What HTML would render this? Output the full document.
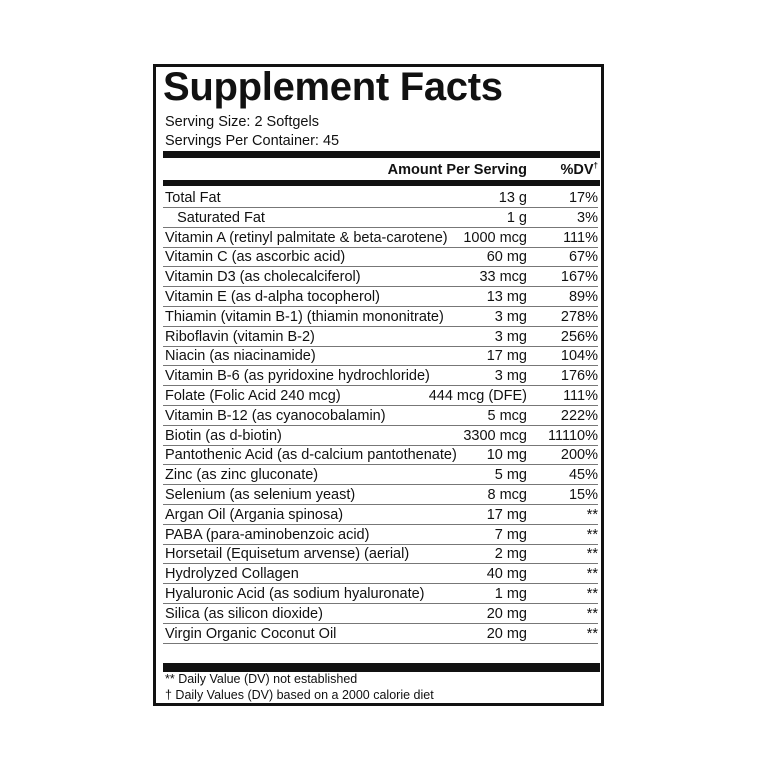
<!DOCTYPE html>
<html><head><meta charset="utf-8"><style>
*{margin:0;padding:0;box-sizing:border-box}
body{width:773px;height:773px;background:#fff;position:relative;overflow:hidden;font-family:"Liberation Sans Narrow","Liberation Sans",sans-serif;color:#111}
.box{position:absolute;left:153px;top:64px;width:451px;height:642px;border:3px solid #111}
.t{position:absolute;white-space:nowrap;font-size:14.5px;line-height:20px}
.bar{position:absolute;left:163px;width:437px;background:#111}
.ln{position:absolute;left:163px;width:435px;height:1px;background:#777}
.r{text-align:right}
sup{font-size:8px;line-height:0;vertical-align:6px}
</style></head><body>
<div class="box"></div>
<div class="t" style="left:163px;top:62px;font-family:'Liberation Sans',sans-serif;font-weight:bold;font-size:40px;line-height:50px;letter-spacing:-0.3px">Supplement Facts</div>
<div class="t" style="left:165px;top:112px">Serving Size: 2 Softgels</div>
<div class="t" style="left:165px;top:131px">Servings Per Container: 45</div>
<div class="bar" style="top:151px;height:7px"></div>
<div class="t" style="left:330px;width:197px;top:160px;font-weight:bold;text-align:right">Amount Per Serving</div>
<div class="t" style="left:540px;width:58px;top:160px;font-weight:bold;text-align:right">%DV<sup>†</sup></div>
<div class="bar" style="top:180px;height:6px"></div>
<div id="rows"></div>
<div class="bar" style="top:663px;height:9px"></div>
<div class="t" style="left:165px;top:671px;font-size:12.5px;line-height:16px">** Daily Value (DV) not established</div>
<div class="t" style="left:165px;top:687px;font-size:12.5px;line-height:16px">† Daily Values (DV) based on a 2000 calorie diet</div>
<script>
var d=[["Total Fat","13 g","17%"],["&nbsp;&nbsp;&nbsp;Saturated Fat","1 g","3%"],["Vitamin A (retinyl palmitate &amp; beta-carotene)","1000 mcg","111%"],["Vitamin C (as ascorbic acid)","60 mg","67%"],["Vitamin D3 (as cholecalciferol)","33 mcg","167%"],["Vitamin E (as d-alpha tocopherol)","13 mg","89%"],["Thiamin (vitamin B-1) (thiamin mononitrate)","3 mg","278%"],["Riboflavin (vitamin B-2)","3 mg","256%"],["Niacin (as niacinamide)","17 mg","104%"],["Vitamin B-6 (as pyridoxine hydrochloride)","3 mg","176%"],["Folate (Folic Acid 240 mcg)","444 mcg (DFE)","111%"],["Vitamin B-12 (as cyanocobalamin)","5 mcg","222%"],["Biotin (as d-biotin)","3300 mcg","11110%"],["Pantothenic Acid (as d-calcium pantothenate)","10 mg","200%"],["Zinc (as zinc gluconate)","5 mg","45%"],["Selenium (as selenium yeast)","8 mcg","15%"],["Argan Oil (Argania spinosa)","17 mg","**"],["PABA (para-aminobenzoic acid)","7 mg","**"],["Horsetail (Equisetum arvense) (aerial)","2 mg","**"],["Hydrolyzed Collagen","40 mg","**"],["Hyaluronic Acid (as sodium hyaluronate)","1 mg","**"],["Silica (as silicon dioxide)","20 mg","**"],["Virgin Organic Coconut Oil","20 mg","**"]];
var h="";
for(var i=0;i<d.length;i++){var y=201+i*19.8;
h+='<div class="t" style="left:165px;top:'+(y-13)+'px">'+d[i][0]+'</div>';
h+='<div class="t r" style="left:400px;width:127px;top:'+(y-13)+'px">'+d[i][1]+'</div>';
h+='<div class="t r" style="left:530px;width:68px;top:'+(y-13)+'px">'+d[i][2]+'</div>';
h+='<div class="ln" style="top:'+(y+6)+'px"></div>';}
document.getElementById("rows").innerHTML=h;
</script>
</body></html>
